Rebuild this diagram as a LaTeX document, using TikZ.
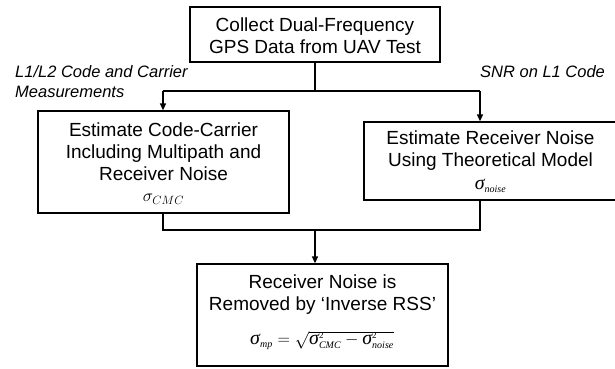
\documentclass[tikz,border=0pt]{standalone}
\usepackage{fontspec}
\setmainfont{Liberation Sans}
\newfontfamily\tms{Liberation Serif}
\usetikzlibrary{arrows.meta}

% Greek sigma and its small indices in a Times-like italic
\newcommand\sigT{\mbox{\tms\itshape\fontsize{20}{20}\selectfont σ}}
\newcommand\subT[1]{\mbox{\tms\itshape\fontsize{10}{10}\selectfont #1}}
\newcommand\supT[1]{\mbox{\tms\fontsize{9}{9}\selectfont #1}}

\begin{document}
\begin{tikzpicture}[x=1pt,y=-1pt,
  stepbox/.style={draw,line width=1.3pt,rectangle,inner sep=0pt},
  boxtext/.style={inner sep=0pt,align=center,font=\fontsize{19}{22}\selectfont},
  edgelabel/.style={inner sep=0pt,anchor=west,align=left,font=\fontsize{16.5}{20}\selectfont\itshape},
  link/.style={line width=1.3pt},
  arrowlink/.style={link,-{Triangle[length=7pt,width=6pt]}}]
\clip (0,0) rectangle (615,369);

% boxes
\node[stepbox,minimum width=250pt,minimum height=55pt] (collect) at (315,34.5) {};
\node[stepbox,minimum width=251pt,minimum height=102pt] (cmc) at (163.5,162) {};
\node[stepbox,minimum width=253pt,minimum height=78pt] (noise) at (490.5,161) {};
\node[stepbox,minimum width=251pt,minimum height=102pt] (rss) at (322.5,315) {};

% box texts
\node[boxtext] (t1) at (315,36) {Collect Dual-Frequency\\GPS Data from UAV Test};
\node[boxtext] (t2) at (163.5,152) {Estimate Code-Carrier\\Including Multipath and\\Receiver Noise};
\node[inner sep=0pt,font=\fontsize{18}{18}\selectfont] (s2) at (163.5,199) {$\sigma_{CMC}$};
\node[boxtext] (t3) at (490.5,151) {Estimate Receiver Noise\\Using Theoretical Model};
\node[inner sep=0pt,font=\fontsize{18}{18}\selectfont] (s3) at (490.5,186) {$\sigT_{\subT{noise}}$};
\node[boxtext] (t4) at (322.5,295) {Receiver Noise is\\Removed by ‘Inverse RSS’};
\node[inner sep=0pt,font=\fontsize{18}{18}\selectfont] (s4) at (322,340)
  {$\sigT_{\subT{mp}} = \sqrt{\sigT^{\supT{2}}_{\subT{CMC}} - \sigT^{\supT{2}}_{\subT{noise}}}$};

% edge labels
\node[edgelabel] (l1) at (15,82) {L1/L2 Code and Carrier\\Measurements};
\node[edgelabel] (l2) at (480,72) {SNR on L1 Code};

% split from the data collection
\coordinate (split) at (315,91);
\coordinate (splitL) at (163,91);
\coordinate (splitR) at (480,91);
\draw[link] (collect.south -| split) -- (split);
\draw[link] (splitL) -- (splitR);
\draw[arrowlink] (splitL) -- (splitL |- cmc.north);
\draw[arrowlink] (splitR) -- (splitR |- noise.north);

% merge into the inverse RSS
\coordinate (joinL) at (163,230);
\coordinate (joinR) at (480,230);
\coordinate (join) at (315,230);
\draw[link] (joinL |- cmc.south) -- (joinL) -- (joinR) -- (joinR |- noise.south);
\draw[arrowlink] (join) -- (join |- rss.north);
\end{tikzpicture}
\end{document}
